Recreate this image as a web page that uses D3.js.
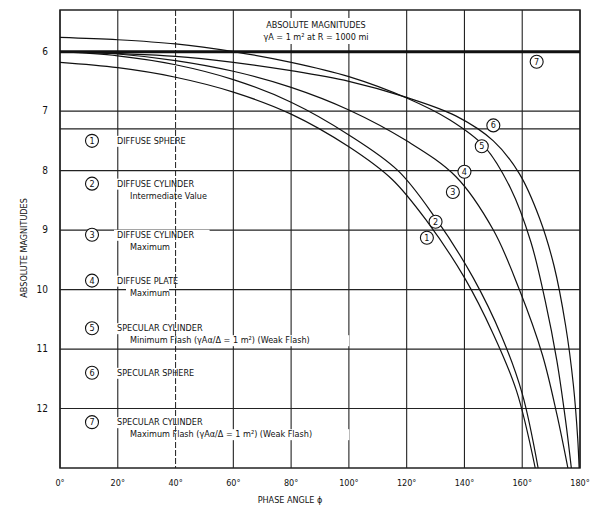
<!DOCTYPE html>
<html><head><meta charset="utf-8">
<script src="https://cdn.jsdelivr.net/npm/d3@7"></script>
<style>body{margin:0;background:#fff}text{font-family:"DejaVu Sans Condensed","DejaVu Sans",sans-serif;fill:#111}</style>
</head><body><svg id="c" width="600" height="512"></svg>
<script>
const xTicks=[0,20,40,60,80,100,120,140,160,180];
const yTicks=[6,7,8,9,10,11,12];
const extraLines=[7.3];
const curve1=[[0,6.18],[20,6.27],[40,6.43],[60,6.68],[80,7.05],[100,7.6],[115,8.15],[127,8.85],[140,9.8],[150,10.75],[158,11.7],[164.5,13]];
const curve2=[[0,6.0],[20,6.07],[40,6.22],[60,6.47],[80,6.85],[100,7.4],[117,8.0],[130,8.8],[143,9.8],[153,10.8],[160,11.75],[165.5,13]];
const curve34=[[0,6.0],[20,6.04],[40,6.15],[60,6.33],[80,6.6],[100,6.98],[120,7.5],[137,8.1],[150,9.0],[159,10],[167,11.1],[172,12.1],[175.8,13]];
const curve5=[[0,5.76],[20,5.8],[40,5.87],[60,6.0],[80,6.18],[100,6.42],[120,6.78],[135,7.15],[147,7.6],[156,8.3],[163,9.2],[168,10.2],[172,11.2],[175,12.2],[177,13]];
const curve6=[[0,6.0],[40,6.08],[60,6.18],[80,6.32],[100,6.5],[120,6.77],[137,7.08],[150,7.5],[159,8.05],[166,8.8],[171,9.6],[175,10.6],[177.7,11.6],[179.2,12.5],[179.7,13]];
const curve7=[[0,6.0],[180,6.0]];
const curveLabels=[["1",127,9.13],["2",130,8.86],["3",136,8.36],["4",140,8.02],["5",146,7.59],["6",150,7.24],["7",165,6.17]];
const legendNums=["1","2","3","4","5","6","7"];
const legendMain=["DIFFUSE SPHERE","DIFFUSE CYLINDER","DIFFUSE CYLINDER","DIFFUSE PLATE","SPECULAR CYLINDER","SPECULAR SPHERE","SPECULAR CYLINDER"];
const legendSub=["","Intermediate Value","Maximum","Maximum","Minimum Flash (γAα/Δ = 1 m²) (Weak Flash)","","Maximum Flash (γAα/Δ = 1 m²) (Weak Flash)"];
const legendMag=[7.55,8.27,9.13,9.9,10.7,11.45,12.28];

const svg=d3.select("#c");
const x=d3.scaleLinear().domain([0,180]).range([60,580]);
const y=d3.scaleLinear().domain([5.3,13]).range([10,468]);
const g=svg.append("g");
g.selectAll(".vx").data(xTicks).join("line").attr("x1",d=>x(d)).attr("x2",d=>x(d)).attr("y1",y(5.3)).attr("y2",y(13)).attr("stroke","#222").attr("stroke-width",d=>d===40?0.8:1.1).attr("stroke-dasharray",d=>d===40?"6,2":null);
g.selectAll(".hy").data(yTicks.concat(extraLines)).join("line").attr("x1",x(0)).attr("x2",x(180)).attr("y1",d=>y(d)).attr("y2",d=>y(d)).attr("stroke","#222").attr("stroke-width",1.2);
g.append("rect").attr("x",x(0)).attr("y",y(5.3)).attr("width",x(180)-x(0)).attr("height",y(13)-y(5.3)).attr("fill","none").attr("stroke","#222").attr("stroke-width",1.5);
g.append("rect").attr("x",252).attr("y",18).attr("width",148).attr("height",26).attr("fill","#fff");
g.append("text").attr("x",316).attr("y",28).attr("text-anchor","middle").attr("font-size",9).text("ABSOLUTE MAGNITUDES");
g.append("text").attr("x",316).attr("y",40).attr("text-anchor","middle").attr("font-size",9).text("γA = 1 m² at R = 1000 mi");
const leg=g.selectAll(".lg").data(legendNums).join("g");
leg.each(function(d,i){
  const s=d3.select(this), yy=y(legendMag[i]);
  const w1=legendMain[i].length*5.6+6, w2=legendSub[i].length*5.3+6;
  s.append("rect").attr("x",114).attr("y",yy-8).attr("width",w1).attr("height",11).attr("fill","#fff");
  if(legendSub[i]) s.append("rect").attr("x",126).attr("y",yy+4).attr("width",w2).attr("height",11).attr("fill","#fff");
  s.append("circle").attr("cx",92).attr("cy",yy-3).attr("r",6.5).attr("fill","#fff").attr("stroke","#111").attr("stroke-width",1.1);
  s.append("text").attr("x",92).attr("y",yy).attr("text-anchor","middle").attr("font-size",9).text(d);
  s.append("text").attr("x",117).attr("y",yy).attr("font-size",9).text(legendMain[i]);
  if(legendSub[i]) s.append("text").attr("x",130).attr("y",yy+12).attr("font-size",9).text(legendSub[i]);
});
g.selectAll(".vx40").data([40]).join("line").attr("x1",d=>x(d)).attr("x2",d=>x(d)).attr("y1",y(5.3)).attr("y2",y(13)).attr("stroke","#222").attr("stroke-width",0.8).attr("stroke-dasharray","6,2");
const line=d3.line().x(d=>x(d[0])).y(d=>y(d[1])).curve(d3.curveCatmullRom.alpha(0.5));
[curve1,curve2,curve34,curve5,curve6].forEach(c=>g.append("path").attr("d",line(c)).attr("fill","none").attr("stroke","#111").attr("stroke-width",1.2));
g.append("path").attr("d",line(curve7)).attr("fill","none").attr("stroke","#111").attr("stroke-width",3);
const cl=g.selectAll(".cl").data(curveLabels).join("g");
cl.append("circle").attr("cx",d=>x(d[1])).attr("cy",d=>y(d[2])).attr("r",6.5).attr("fill","#fff").attr("stroke","#111").attr("stroke-width",1.1);
cl.append("text").attr("x",d=>x(d[1])).attr("y",d=>y(d[2])+3).attr("text-anchor","middle").attr("font-size",9).text(d=>d[0]);
g.selectAll(".xt").data(xTicks).join("text").attr("x",d=>x(d)).attr("y",486).attr("text-anchor","middle").attr("font-size",9).text(d=>d+"°");
g.selectAll(".yt").data(yTicks).join("text").attr("x",48).attr("y",d=>y(d)+3).attr("text-anchor","end").attr("font-size",10).text(d=>d);
g.append("text").attr("x",290).attr("y",503).attr("text-anchor","middle").attr("font-size",9).text("PHASE ANGLE ϕ");
g.append("text").attr("transform","translate(27,"+y(9.3)+") rotate(-90)").attr("text-anchor","middle").attr("font-size",9).text("ABSOLUTE MAGNITUDES");
</script></body></html>
